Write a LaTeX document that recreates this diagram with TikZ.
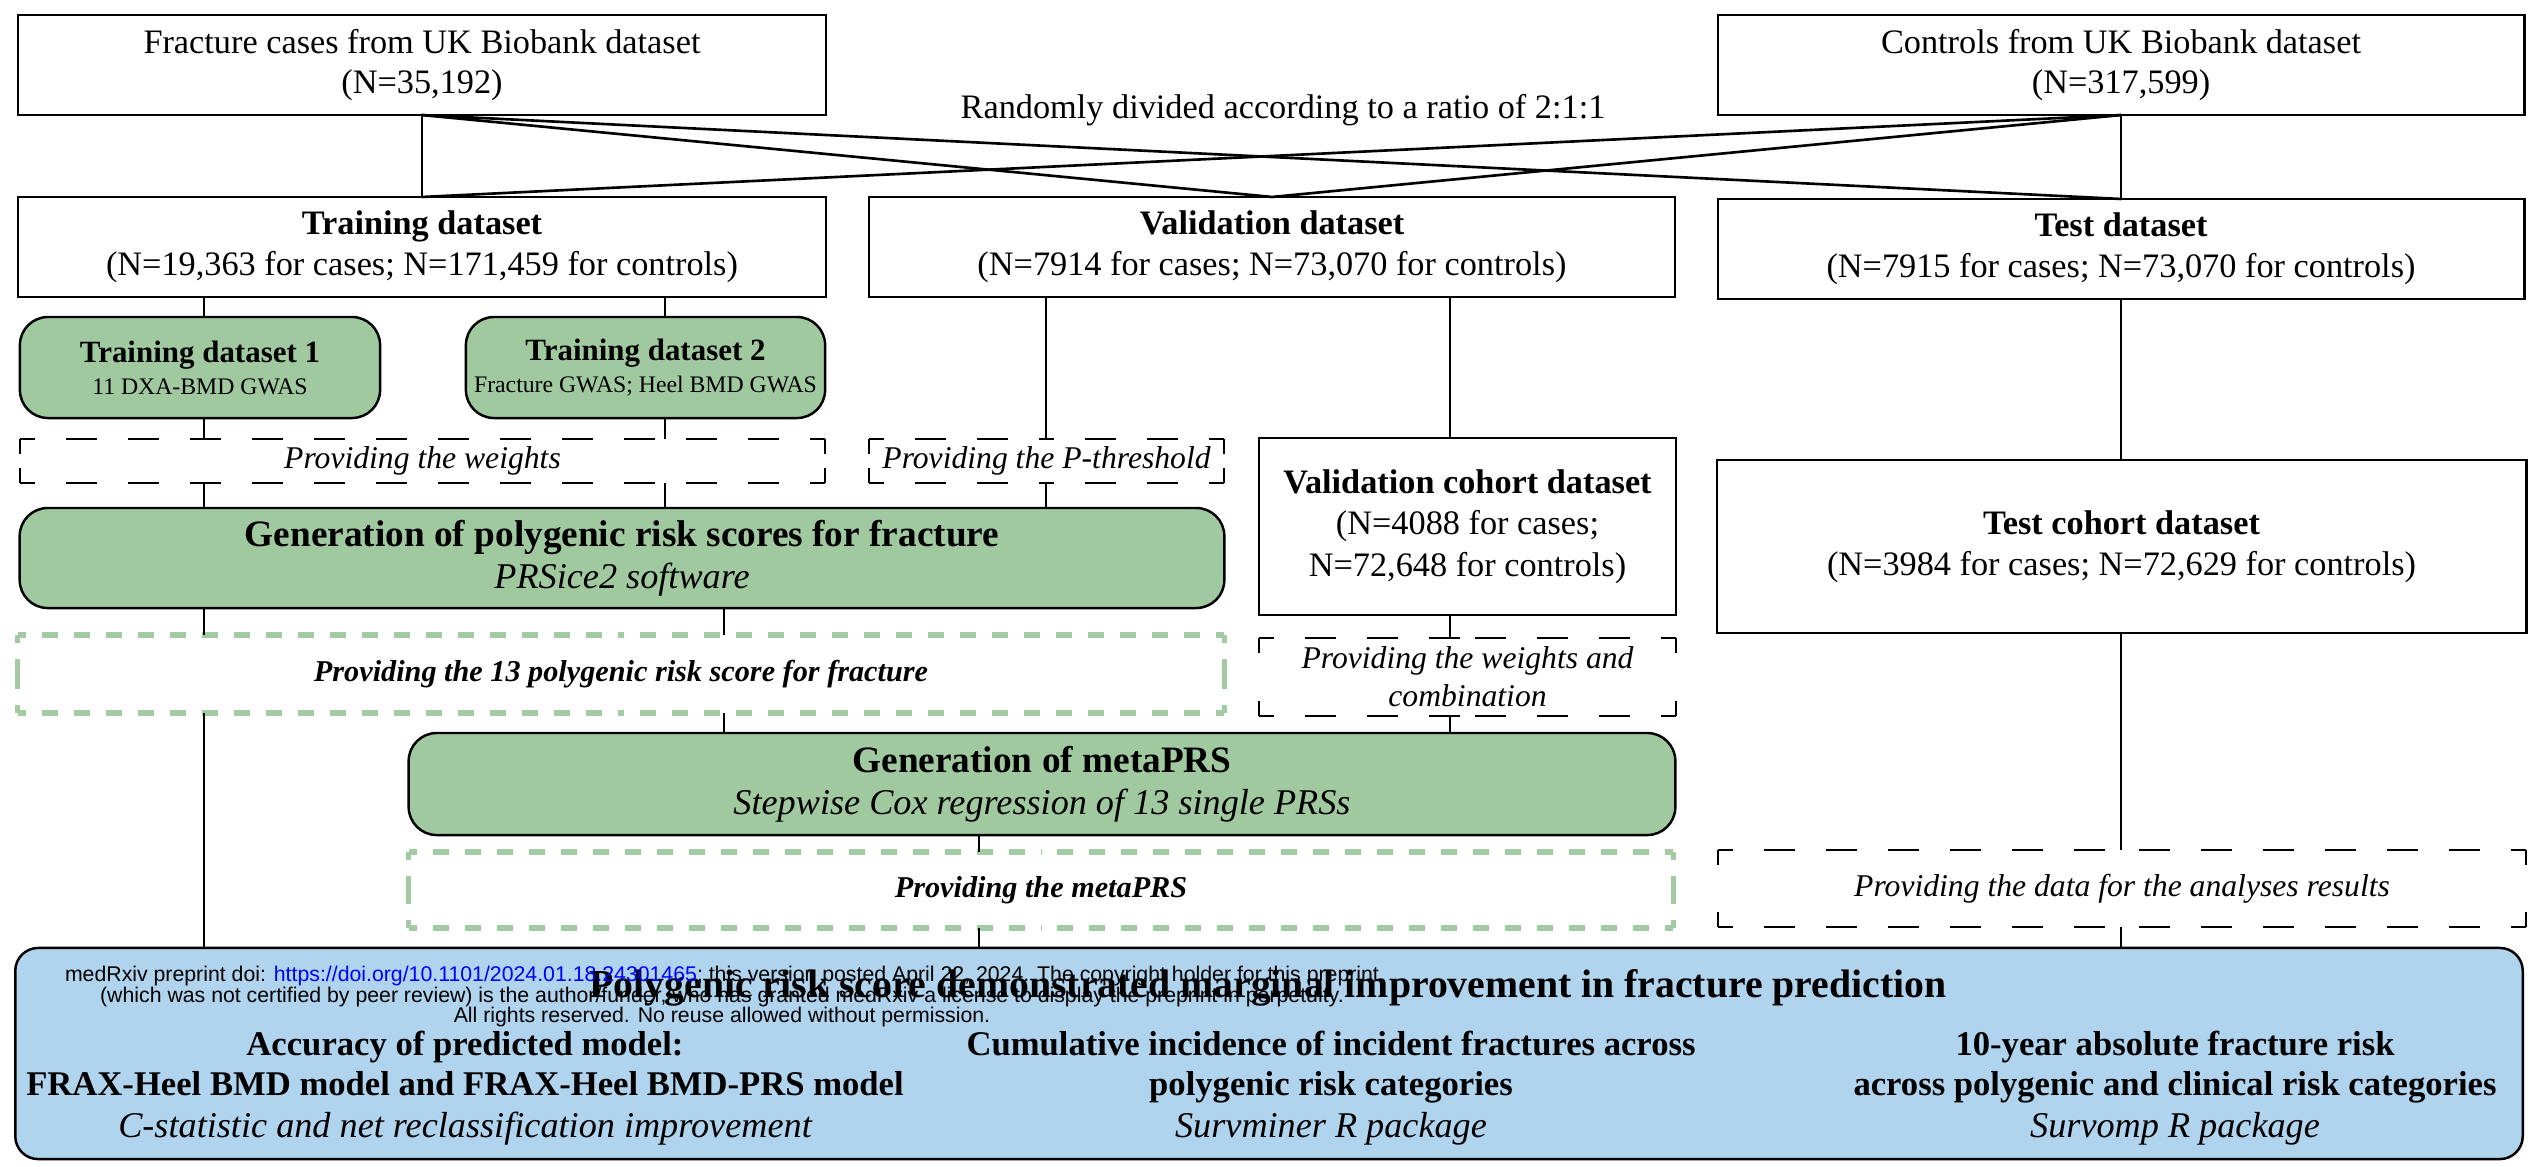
\documentclass[tikz,border=0pt]{standalone}
\usepackage{fontspec}
\setmainfont{Liberation Serif}
\setsansfont{Liberation Sans}
\definecolor{boxgreen}{RGB}{161,201,160}
\definecolor{boxblue}{RGB}{176,212,238}
\definecolor{dashgreen}{RGB}{163,203,163}
\newcommand\fmain{\fontsize{9.75pt}{11.6pt}\selectfont}
\newcommand\fgen{\fontsize{10.6pt}{11.95pt}\selectfont\bfseries}
\newcommand\fgensub{\mdseries\itshape\fontsize{10.3pt}{11.95pt}\selectfont}
\newcommand\ftd{\fontsize{8.8pt}{9.1pt}\selectfont\bfseries}
\newcommand\ftdsub{\mdseries\fontsize{6.75pt}{9.1pt}\selectfont}
\newcommand\fprov{\fontsize{9pt}{10.8pt}\selectfont\itshape}
\newcommand\fprovb{\fontsize{8.6pt}{10.8pt}\selectfont\bfseries\itshape}
\newcommand\ftitle{\fontsize{11.3pt}{13pt}\selectfont\bfseries}
\newcommand\fcol{\fontsize{9.85pt}{11.4pt}\selectfont\bfseries}
\newcommand\fcolsub{\mdseries\itshape\fontsize{10.3pt}{11.4pt}\selectfont}
\newcommand\fmark{\sffamily\fontsize{6.05pt}{5.7pt}\selectfont\lineskiplimit=-5pt}
\tikzset{
  boxsize/.style 2 args={minimum width=#1cm,minimum height=#2cm},
  plainbox/.style={draw,line width=0.7pt,inner sep=0pt,outer sep=0pt,align=center,font=\fmain},
  greenbox/.style={plainbox,fill=boxgreen,rounded corners=8pt},
  bluebox/.style={plainbox,fill=boxblue,rounded corners=6.5pt},
  dashbox/.style={inner sep=0pt,outer sep=0pt,align=center,font=\fprov},
  gdashbox/.style={dashbox,font=\fprovb},
  dashline/.style={line width=0.6pt,dash pattern=on 8.8pt off 8.8pt,dash phase=4.4pt},
  gdashline/.style={draw=dashgreen,line width=1.55pt,dash pattern=on 4.55pt off 4.55pt,dash phase=2.3pt},
  conn/.style={line width=0.5pt},
  split/.style={line width=0.75pt}
}

\begin{document}
\begin{tikzpicture}[x=0.01cm,y=-0.01cm]
  \useasboundingbox (0,0) rectangle (2528,1166);

  % Source datasets
  \node[plainbox,boxsize={8.08}{1.00}] (cases) at (422,65) {Fracture cases from UK Biobank dataset\\(N=35,192)};
  \node[plainbox,boxsize={8.06}{1.00}] (controls) at (2121,65) {Controls from UK Biobank dataset\\(N=317,599)};
  \node[font=\fmain,anchor=base] (ratio) at (1283,118) {Randomly divided according to a ratio of 2:1:1};

  % Split datasets
  \node[plainbox,boxsize={8.08}{1.00}] (train) at (422,247) {\textbf{Training dataset}\\(N=19,363 for cases; N=171,459 for controls)};
  \node[plainbox,boxsize={8.06}{1.00}] (val) at (1272,247) {\textbf{Validation dataset}\\(N=7914 for cases; N=73,070 for controls)};
  \node[plainbox,boxsize={8.06}{1.00}] (test) at (2121,249) {\textbf{Test dataset}\\(N=7915 for cases; N=73,070 for controls)};

  % Training GWAS
  \node[greenbox,boxsize={3.60}{1.01},font=\ftd] (td1) at (200,367.5) {Training dataset 1\\{\ftdsub 11 DXA-BMD GWAS}};
  \node[greenbox,boxsize={3.59}{1.01},font=\ftd] (td2) at (645.5,367.5) {Training dataset 2\\{\ftdsub Fracture GWAS; Heel BMD GWAS}};
  \node[dashbox,boxsize={8.05}{0.44}] (weights) at (422.5,461) {Providing the weights};
  \node[dashbox,boxsize={3.55}{0.44}] (pthresh) at (1046.5,461) {Providing the P-threshold};

  % Single PRSs
  \node[greenbox,boxsize={12.04}{1.00},font=\fgen] (prsgen) at (622,558) {Generation of polygenic risk scores for fracture\\{\fgensub PRSice2 software}};
  \node[gdashbox,boxsize={12.06}{0.78}] (green13) at (621,674) {Providing the 13 polygenic risk score for fracture};

  % Cohorts
  \node[plainbox,boxsize={4.17}{1.77},font=\fontsize{9.75pt}{11.8pt}\selectfont] (valcoh) at (1467.5,526.5) {\textbf{Validation cohort dataset}\\(N=4088 for cases;\\N=72,648 for controls)};
  \node[plainbox,boxsize={8.09}{1.73}] (testcoh) at (2121.5,546.5) {\textbf{Test cohort dataset}\\(N=3984 for cases; N=72,629 for controls)};
  \node[dashbox,boxsize={4.17}{0.78}] (combo) at (1467.5,677) {Providing the weights and\\combination};

  % metaPRS
  \node[greenbox,boxsize={12.66}{1.02},font=\fgen] (meta) at (1042,784) {Generation of metaPRS\\{\fgensub Stepwise Cox regression of 13 single PRSs}};
  \node[gdashbox,boxsize={12.64}{0.76}] (greenmeta) at (1041,890) {Providing the metaPRS};
  \node[dashbox,boxsize={8.08}{0.77}] (data) at (2122,888.5) {Providing the data for the analyses results};

  % Dashed outlines, each side drawn from its corners
  \foreach \n in {weights,pthresh,combo,data}
    \draw[dashline] (\n.north west) -- (\n.north) (\n.north east) -- (\n.north)
      (\n.north east) -- (\n.east) (\n.south east) -- (\n.east)
      (\n.south east) -- (\n.south) (\n.south west) -- (\n.south)
      (\n.south west) -- (\n.west) (\n.north west) -- (\n.west);
  \foreach \n in {green13,greenmeta}
    \draw[gdashline] (\n.north west) -- (\n.north) (\n.north east) -- (\n.north)
      (\n.north east) -- (\n.east) (\n.south east) -- (\n.east)
      (\n.south east) -- (\n.south) (\n.south west) -- (\n.south)
      (\n.south west) -- (\n.west) (\n.north west) -- (\n.west);

  % Results
  \node[bluebox,boxsize={25.06}{2.11}] (blue) at (1269,1053.5) {};
  \node[font=\ftitle,anchor=base] (ptitle) at (1268,997) {Polygenic risk score demonstrated marginal improvement in fracture prediction};
  \node[font=\fcol,align=center] (col1) at (465,1088) {Accuracy of predicted model:\\FRAX-Heel BMD model and FRAX-Heel BMD-PRS model\\[0.55pt]{\fcolsub C-statistic and net reclassification improvement}};
  \node[font=\fcol,align=center] (col2) at (1331,1088) {Cumulative incidence of incident fractures across\\polygenic risk categories\\[0.55pt]{\fcolsub Survminer R package}};
  \node[font=\fcol,align=center] (col3) at (2175,1088) {10-year absolute fracture risk\\across polygenic and clinical risk categories\\[0.55pt]{\fcolsub Survomp R package}};
  \node[font=\fmark,align=center] (mark) at (722,996.5) {medRxiv preprint doi: \textcolor{blue}{https://doi.org/10.1101/2024.01.18.24301465}; this version posted April 22, 2024. The copyright holder for this preprint\\(which was not certified by peer review) is the author/funder, who has granted medRxiv a license to display the preprint in perpetuity.\\All rights reserved. No reuse allowed without permission.};

  % Split lines
  \draw[conn] (cases.south) -- (train.north);
  \draw[conn] (controls.south) -- (test.north);
  \foreach \b in {val,test} \draw[split] (cases.south) -- (\b.north);
  \foreach \b in {train,val} \draw[split] (controls.south) -- (\b.north);

  % Vertical connectors
  \coordinate (cA) at (204,0);
  \coordinate (cB) at (665,0);
  \coordinate (cC) at (724,0);
  \coordinate (cD) at (1046,0);
  \coordinate (cE) at (1450,0);
  \coordinate (cF) at (979,0);
  \coordinate (cG) at (2121,0);
  \foreach \a/\b in {train/td1,td1/weights,weights/prsgen,prsgen/green13,green13/blue}
    \draw[conn] (cA |- \a.south) -- (cA |- \b.north);
  \foreach \a/\b in {train/td2,td2/weights,weights/prsgen}
    \draw[conn] (cB |- \a.south) -- (cB |- \b.north);
  \foreach \a/\b in {prsgen/green13,green13/meta}
    \draw[conn] (cC |- \a.south) -- (cC |- \b.north);
  \foreach \a/\b in {val/pthresh,pthresh/prsgen}
    \draw[conn] (cD |- \a.south) -- (cD |- \b.north);
  \foreach \a/\b in {val/valcoh,valcoh/combo,combo/meta}
    \draw[conn] (cE |- \a.south) -- (cE |- \b.north);
  \foreach \a/\b in {meta/greenmeta,greenmeta/blue}
    \draw[conn] (cF |- \a.south) -- (cF |- \b.north);
  \foreach \a/\b in {test/testcoh,testcoh/data,data/blue}
    \draw[conn] (cG |- \a.south) -- (cG |- \b.north);
\end{tikzpicture}
\end{document}
